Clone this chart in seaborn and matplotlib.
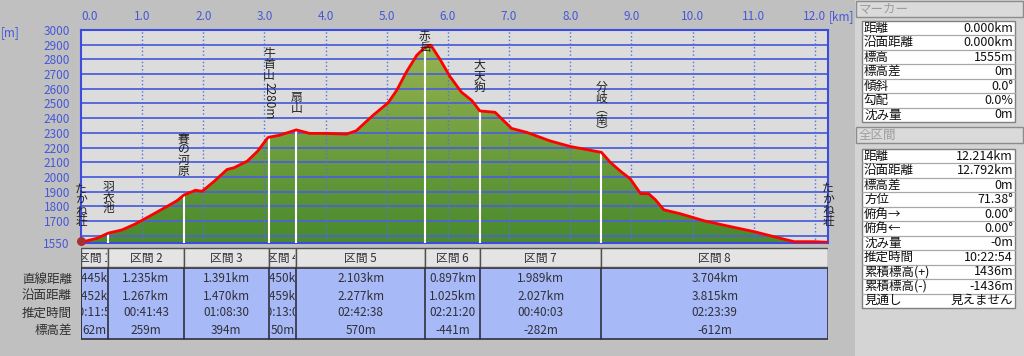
import numpy as np
import matplotlib
matplotlib.use('Agg')
import matplotlib.pyplot as plt
from matplotlib.patches import Rectangle
from matplotlib.colors import LinearSegmentedColormap
from matplotlib.transforms import Bbox, TransformedBbox
import seaborn as sns

# ---- data ----
dist_km = [0.0, 0.26, 0.445, 0.67, 0.89, 1.11, 1.36, 1.57, 1.68, 1.87, 1.98, 2.18,
           2.39, 2.50, 2.72, 2.89, 3.05, 3.071, 3.25, 3.521, 3.74, 4.01, 4.34, 4.50,
           4.78, 5.02, 5.16, 5.32, 5.49, 5.624, 5.72, 5.87, 6.03, 6.22, 6.39, 6.521,
           6.77, 7.04, 7.29, 7.67, 8.0, 8.51, 8.66, 8.82, 8.98, 9.15, 9.28, 9.39,
           9.53, 9.80, 10.19, 10.57, 11.01, 11.33, 11.66, 11.99, 12.214]
elev_m = [1555, 1582, 1617, 1639, 1680, 1730, 1788, 1838, 1876, 1909, 1902, 1971,
          2051, 2062, 2108, 2176, 2265, 2270, 2284, 2320, 2296, 2296, 2291, 2314,
          2421, 2504, 2588, 2714, 2828, 2882, 2897, 2800, 2685, 2577, 2520, 2449,
          2440, 2330, 2303, 2245, 2207, 2167, 2097, 2039, 1987, 1886, 1886, 1845,
          1776, 1749, 1701, 1666, 1627, 1593, 1559, 1559, 1555]

wp_names = ['たかね荘', '羽衣池', '賽の河原', '牛首山', '扇山', '赤岳', '大天狗', '分岐︵南︶', 'たかね荘']
wp_label_top = [1962, 1976, 2304, 2881, 2586, 2998, 2805, 2655, 1968]

seg_names = ['区間 1', '区間 2', '区間 3', '区間 4', '区間 5', '区間 6', '区間 7', '区間 8']
seg_dist = [0.445, 1.235, 1.391, 0.450, 2.103, 0.897, 1.989, 3.704]
seg_surf = [0.452, 1.267, 1.470, 0.459, 2.277, 1.025, 2.027, 3.815]
seg_time = ['00:11:58', '00:41:43', '01:08:30', '00:13:03', '02:42:38', '02:21:20', '00:40:03', '02:23:39']
seg_dh = [62, 259, 394, 50, 570, -441, -282, -612]
row_names = ['直線距離', '沿面距離', '推定時間', '標高差']

xticks_km = list(range(13))
yticks_m = [1550] + list(range(1700, 3001, 100))
ygrid_m = list(range(1600, 3001, 100))

marker_labels = ['距離', '沿面距離', '標高', '標高差', '傾斜', '勾配', '沈み量']
marker_values = ['0.000km', '0.000km', '1555m', '0m', '0.0°', '0.0%', '0m']
total_labels = ['距離', '沿面距離', '標高差', '方位', '俯角→', '俯角←', '沈み量',
                '推定時間', '累積標高(+)', '累積標高(-)', '見通し']
total_values = ['12.214km', '12.792km', '0m', '71.38°', '0.00°', '0.00°', '-0m',
                '10:22:54', '1436m', '-1436m', '見えません']

# ---- style ----
sns.set_style('white')
plt.rcParams['font.family'] = ['Noto Sans CJK JP', 'DejaVu Sans']
BLUE = '#4658d8'
W, H = 1024, 356


def px_rect(x0, y0, x1, y1):
    return [x0 / W, 1 - y1 / H, (x1 - x0) / W, (y1 - y0) / H]


total_km = sum(seg_dist)
wp_km = np.concatenate([[0], np.cumsum(seg_dist)])
wp_elev = np.interp(wp_km, dist_km, elev_m)

fig = plt.figure(figsize=(10.24, 3.56), dpi=100, facecolor='#c0c0c0')

# ============ profile ============
ax = fig.add_axes(px_rect(81, 30, 828, 243))
ax.set_facecolor('#dcdcdc')

poly = ax.fill_between(dist_km, elev_m, 1550, color='none', lw=0)
cmap = LinearSegmentedColormap.from_list('g', ['#488a2c', '#9cb654'])
grad = np.linspace(1, 0, 256).reshape(-1, 1)
img = ax.imshow(grad, extent=[0, total_km, 1550, 3000], aspect='auto',
                cmap=cmap, origin='upper', zorder=1)
img.set_clip_path(poly.get_paths()[0], ax.transData)

for y in ygrid_m:
    ax.axhline(y, color='#4f60d8', lw=1.3, zorder=2)
for x in xticks_km[1:]:
    ax.axvline(x, color='#5a6ee0', lw=1, ls=':', zorder=2)

ax.vlines(wp_km[1:-1], 1550, wp_elev[1:-1], color='white', lw=1.5, zorder=3)
sns.lineplot(x=dist_km, y=elev_m, color='red', lw=2, ax=ax, zorder=5)
ax.scatter([0], [1562], s=30, color='#a83030', marker='o', zorder=6, clip_on=False)

ax.set_xlim(0, total_km)
ax.set_ylim(1550, 3000)
ax.xaxis.tick_top()
ax.set_xticks(xticks_km)
ax.set_xticklabels([f'{k:.1f}' for k in xticks_km])
ax.get_xticklabels()[0].set_horizontalalignment('left')
ax.set_yticks(yticks_m)
ax.set_yticklabels([str(v) for v in yticks_m])
ax.tick_params(length=0, colors=BLUE, labelsize=8.5)
ax.tick_params(axis='y', pad=8)
ax.tick_params(axis='x', pad=5)
ax.set_xlabel('')
ax.set_ylabel('')
for s in ax.spines.values():
    s.set_color('#3c4ce0')
    s.set_linewidth(1.5)

fig.text(10 / W, 1 - 33 / H, '[m]', color=BLUE, fontsize=8.5, ha='center', va='center')
fig.text(842 / W, 1 - 17 / H, '[km]', color=BLUE, fontsize=8.5, ha='center', va='center')

# vertical waypoint names, one character under the other
STEP = 11 * 0.72
for name, km, top in zip(wp_names, wp_km, wp_label_top):
    for i, ch in enumerate(name):
        ax.annotate(ch, xy=(km, top), xytext=(0, -i * STEP), textcoords='offset points',
                    ha='center', va='top', fontsize=8.5, color='#202020',
                    annotation_clip=False, zorder=6)
    if name == '牛首山':
        ax.annotate('2280m', xy=(km, top), xytext=(0, -len(name) * STEP - 1),
                    textcoords='offset points', ha='center', va='top', rotation=270,
                    fontsize=8.5, color='#202020', zorder=6)

# ============ segment table ============
tax = fig.add_axes(px_rect(81, 246, 828, 341))
tax.set_xlim(0, total_km)
tax.set_ylim(341, 246)
tax.axis('off')

tax.add_patch(Rectangle((0, 268), total_km, 71, facecolor='#a8b9f7', edgecolor='#303040', lw=1.2))
row_y = [279, 296, 313, 330]
for i in range(len(seg_names)):
    x0, x1 = wp_km[i], wp_km[i + 1]
    tax.add_patch(Rectangle((x0, 248), x1 - x0, 19, facecolor='#e4e4e4', edgecolor='#505050', lw=1))
    tax.plot([x0, x0], [268, 339], color='#303040', lw=1.2)
    # bbox kept in increasing order so the display box is not flipped
    clip = TransformedBbox(Bbox.from_extents(x0 + 0.02, 248, x1 - 0.02, 339), tax.transData)
    cells = [(258, seg_names[i]),
             (row_y[0], f'{seg_dist[i]:.3f}km'),
             (row_y[1], f'{seg_surf[i]:.3f}km'),
             (row_y[2], seg_time[i]),
             (row_y[3], f'{seg_dh[i]}m')]
    for yc, s in cells:
        t = tax.text((x0 + x1) / 2, yc, s, ha='center', va='center', fontsize=8.5,
                     color='#303038', zorder=4)
        t.set_clip_box(clip)
        t.set_clip_on(True)

for yc, name in zip(row_y, row_names):
    fig.text(72 / W, 1 - yc / H, name, ha='right', va='center', fontsize=9, color='#303030')

# ============ side panel ============
pax = fig.add_axes(px_rect(855, 0, 1024, 356))
pax.set_xlim(855, 1024)
pax.set_ylim(356, 0)
pax.axis('off')
pax.add_patch(Rectangle((855, 0), 169, 356, facecolor='#d4d4d4', edgecolor='none'))


def panel_block(title, y_title, labels, values, y_box, rh=14.45):
    pax.add_patch(Rectangle((856, y_title), 167, 16, facecolor='#dadada',
                            edgecolor='#8c8c8c', lw=1))
    pax.text(859, y_title + 8, title, color='#9c9c9c', va='center', ha='left', fontsize=9)
    n = len(labels)
    pax.add_patch(Rectangle((862, y_box), 153, n * rh, facecolor='white',
                            edgecolor='#808080', lw=1))
    for i, (lab, val) in enumerate(zip(labels, values)):
        yc = y_box + (i + 0.5) * rh
        if i > 0:
            pax.plot([862, 1015], [y_box + i * rh] * 2, color='#a8a8a8', lw=0.9)
        pax.text(864, yc, lab, va='center', ha='left', fontsize=9, color='#101010')
        pax.text(1013, yc, val, va='center', ha='right', fontsize=9, color='#101010')


panel_block('マーカー', 1, marker_labels, marker_values, 21)
panel_block('全区間', 127, total_labels, total_values, 149)

fig.savefig('out.png', dpi=100, facecolor=fig.get_facecolor())
